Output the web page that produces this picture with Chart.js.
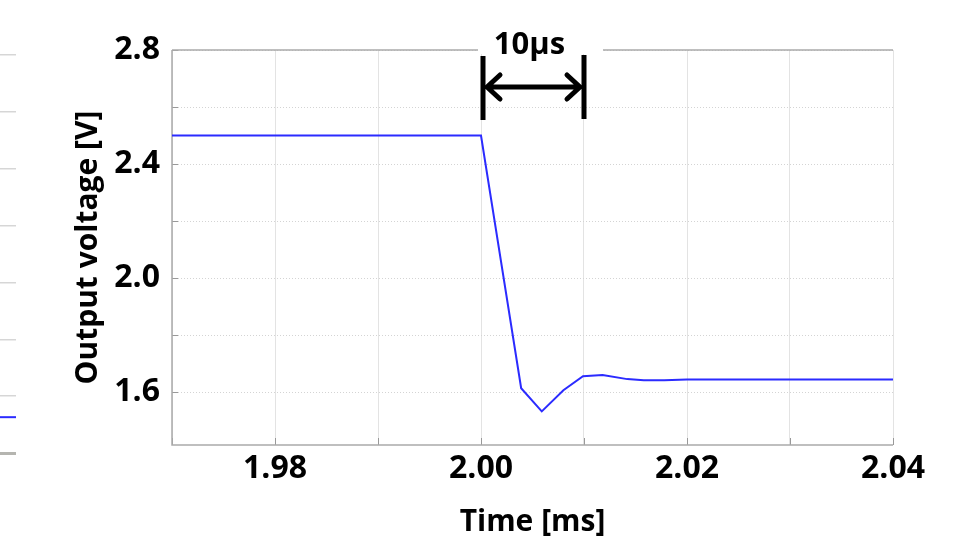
<!DOCTYPE html>
<html>
<head>
<meta charset="utf-8">
<script src="https://cdn.jsdelivr.net/npm/chart.js@4.4.1/dist/chart.umd.min.js"></script>
<style>
  html, body { margin: 0; padding: 0; background: #fff; }
  #wrap { position: relative; width: 965px; height: 540px; overflow: hidden; }
  #main { position: absolute; left: 0; top: 0; }
  #side { position: absolute; left: 0; top: 0; }
</style>
</head>
<body>
<div id="wrap">
  <canvas id="side" width="20" height="540"></canvas>
  <canvas id="main" width="965" height="540"></canvas>
</div>
<script>
// step response of the output voltage
const timeMs  = [1.970, 2.000, 2.0039, 2.0059, 2.0080, 2.0099, 2.0118, 2.0142, 2.0158, 2.0178, 2.0200, 2.0400];
const voltage = [2.500, 2.500, 1.614, 1.533, 1.607, 1.656, 1.660, 1.646, 1.642, 1.642, 1.645, 1.645];

const xTicks = [1.98, 2.00, 2.02, 2.04];
const yTicks = [1.6, 2.0, 2.4, 2.8];
const yGrid  = [1.6, 1.8, 2.0, 2.2, 2.4, 2.6, 2.8];
const spanMarks = [2.000, 2.010];
const spanLabel = '10µs';

// neighbouring panel cut off at the left edge
const sideGrid = [0, 1, 2, 3, 4, 5, 6, 7];
const sideLevel = [0.63, 0.63];

const FONT = "'Open Sans', 'DejaVu Sans', sans-serif";
const BLUE = '#2b2bff';

const decor = {
  id: 'decor',
  beforeDatasetsDraw(chart) {
    const { ctx, chartArea: a, scales: { x, y } } = chart;
    ctx.save();
    // small inner ticks
    ctx.strokeStyle = '#999';
    ctx.lineWidth = 1;
    ctx.beginPath();
    for (let v = 1.97; v <= 2.0401; v += 0.01) {
      const px = Math.round(x.getPixelForValue(v)) + 0.5;
      ctx.moveTo(px, a.bottom);
      ctx.lineTo(px, a.bottom - 7);
    }
    yGrid.forEach(v => {
      const py = Math.round(y.getPixelForValue(v)) + 0.5;
      ctx.moveTo(a.left, py);
      ctx.lineTo(a.left + 6, py);
    });
    ctx.stroke();
    // axis lines and top frame
    ctx.strokeStyle = '#aaa';
    ctx.lineWidth = 1.5;
    ctx.beginPath();
    ctx.moveTo(a.left, a.top);
    ctx.lineTo(a.left, a.bottom);
    ctx.lineTo(a.right, a.bottom);
    ctx.moveTo(a.left, a.top);
    ctx.lineTo(a.right, a.top);
    ctx.stroke();
    ctx.restore();
  },
  afterDraw(chart) {
    const { ctx, chartArea: a, scales: { x } } = chart;
    const x1 = x.getPixelForValue(spanMarks[0]) + 2;
    const x2 = x.getPixelForValue(spanMarks[1]);
    const mid = (x1 + x2) / 2;
    ctx.save();
    ctx.fillStyle = '#fff';
    ctx.fillRect(x1 - 5, a.top - 4, x2 - x1 + 24, 8);
    ctx.fillStyle = '#000';
    ctx.fillRect(x1 - 2.5, a.top + 6, 5, 64);
    ctx.fillRect(x2 - 2.5, a.top + 5, 5, 64);
    const ay = a.top + 37;
    ctx.strokeStyle = '#000';
    ctx.lineWidth = 5;
    ctx.lineCap = 'round';
    ctx.lineJoin = 'round';
    ctx.beginPath();
    ctx.moveTo(x1 + 4, ay);
    ctx.lineTo(x2 - 4, ay);
    ctx.moveTo(x1 + 17, ay - 12);
    ctx.lineTo(x1 + 4, ay);
    ctx.lineTo(x1 + 17, ay + 12);
    ctx.moveTo(x2 - 17, ay - 12);
    ctx.lineTo(x2 - 4, ay);
    ctx.lineTo(x2 - 17, ay + 12);
    ctx.stroke();
    ctx.font = 'bold 31px ' + FONT;
    ctx.textAlign = 'center';
    ctx.textBaseline = 'alphabetic';
    ctx.fillText(spanLabel, mid - 4, a.top + 4);
    ctx.restore();
  }
};

new Chart(document.getElementById('main'), {
  type: 'line',
  data: {
    datasets: [{
      data: timeMs.map((t, i) => ({ x: t, y: voltage[i] })),
      borderColor: BLUE,
      borderWidth: 2,
      pointRadius: 0,
      tension: 0,
      fill: false
    }]
  },
  options: {
    responsive: false,
    animation: false,
    events: [],
    layout: { padding: { left: 60, right: 72, top: 50, bottom: 0 } },
    plugins: { legend: { display: false }, tooltip: { enabled: false } },
    scales: {
      x: {
        type: 'linear',
        min: 1.97,
        max: 2.04,
        afterBuildTicks: s => {
          const t = [];
          for (let i = 0; i <= 7; i++) t.push({ value: +(1.97 + i * 0.01).toFixed(2) });
          s.ticks = t;
        },
        afterFit: s => { s.height = 95; },
        grid: { color: '#e3e3e3', lineWidth: 1, drawTicks: false },
        border: { display: false },
        ticks: {
          padding: 5,
          color: '#000',
          font: { family: FONT, weight: 'bold', size: 32 },
          maxRotation: 0,
          autoSkip: false,
          callback: v => xTicks.some(t => Math.abs(t - v) < 1e-6) ? v.toFixed(2) : ''
        },
        title: {
          display: true,
          text: 'Time [ms]',
          color: '#000',
          font: { family: FONT, weight: 'bold', size: 30 },
          padding: { top: 0, bottom: 0 }
        }
      },
      y: {
        min: 1.415,
        max: 2.8,
        afterBuildTicks: s => { s.ticks = yGrid.map(v => ({ value: v })); },
        afterFit: s => { s.width = 112; },
        grid: { color: '#d4d4d4', lineWidth: 1, drawTicks: false },
        border: { display: false, dash: [1, 2] },
        ticks: {
          padding: 12,
          color: '#000',
          font: { family: FONT, weight: 'bold', size: 32 },
          autoSkip: false,
          callback: v => yTicks.some(t => Math.abs(t - v) < 1e-6) ? v.toFixed(1) : ''
        },
        title: {
          display: true,
          text: 'Output voltage [V]',
          color: '#000',
          font: { family: FONT, weight: 'bold', size: 30 },
          padding: { top: 10, bottom: 10 }
        }
      }
    }
  },
  plugins: [decor]
});

new Chart(document.getElementById('side'), {
  type: 'line',
  data: {
    datasets: [{
      data: sideLevel.map((v, i) => ({ x: i, y: v })),
      borderColor: BLUE,
      borderWidth: 2,
      pointRadius: 0
    }]
  },
  options: {
    responsive: false,
    animation: false,
    events: [],
    layout: { padding: { left: 0, right: 4, top: 55, bottom: 87 } },
    plugins: { legend: { display: false }, tooltip: { enabled: false } },
    scales: {
      x: { type: 'linear', min: 0, max: 1, display: false },
      y: {
        min: 0,
        max: 7,
        afterBuildTicks: s => { s.ticks = sideGrid.map(v => ({ value: v })); },
        afterFit: s => { s.width = 0; },
        ticks: { display: false },
        border: { display: false },
        grid: {
          drawTicks: false,
          color: c => c.tick && c.tick.value === 0 ? '#b5b5b0' : '#d6d6d6',
          lineWidth: c => c.tick && c.tick.value === 0 ? 3 : 1.5
        }
      }
    }
  }
});
</script>
</body>
</html>
